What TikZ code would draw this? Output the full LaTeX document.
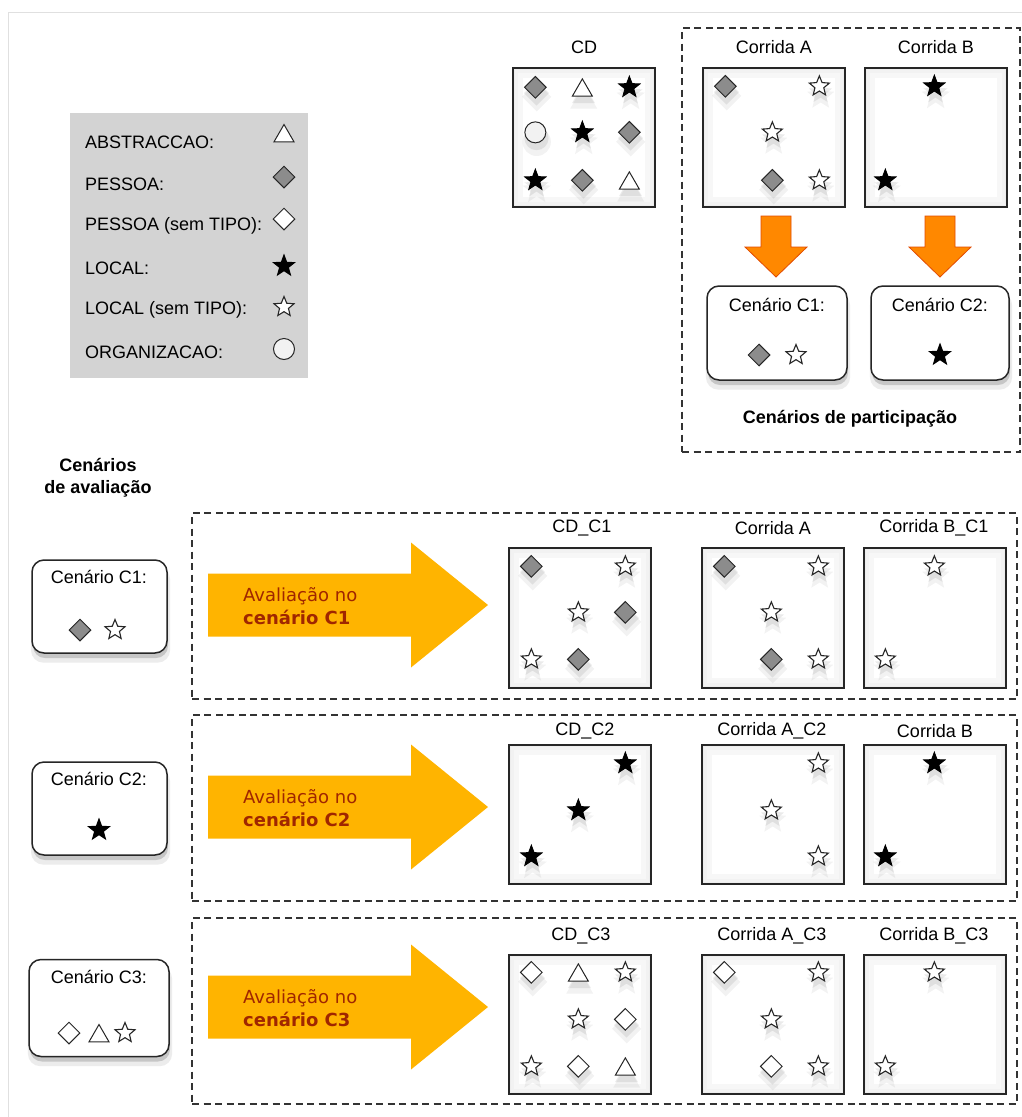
\documentclass[tikz,border=0pt]{standalone}
\usepackage{fontspec}
\setmainfont{Liberation Sans}
\newfontfamily\dejavu{DejaVu Sans}
\usetikzlibrary{shapes.geometric,shadows,calc}
\definecolor{pgray}{RGB}{140,140,140}
\definecolor{leggray}{RGB}{211,211,211}
\definecolor{arryel}{RGB}{255,180,0}
\definecolor{arrorg}{RGB}{255,136,0}
\definecolor{arrorgd}{RGB}{225,75,0}
\definecolor{avtext}{RGB}{160,38,0}
\tikzset{
  txt/.style={font=\fontsize{18}{22}\selectfont, inner sep=0pt},
  btxt/.style={font=\fontsize{18}{22}\selectfont\bfseries, inner sep=0pt},
  symb/.style={draw=black!85, line width=1pt, inner sep=0pt},
  sh/.style={drop shadow={shadow xshift=1pt, shadow yshift=-7pt, shadow scale=1.35, opacity=0.1},
             drop shadow={shadow xshift=1pt, shadow yshift=-5pt, shadow scale=1.15, opacity=0.16}},
  pdia/.style={symb, diamond, fill=pgray, minimum width=22pt, minimum height=22pt},
  wdia/.style={symb, diamond, fill=white, minimum width=22pt, minimum height=22pt},
  wtri/.style={symb, regular polygon, regular polygon sides=3, fill=white, minimum size=23pt, yshift=-3pt},
  bstar/.style={symb, star, star points=5, star point ratio=2.4, fill=black, draw=black, minimum size=22pt},
  wstar/.style={symb, star, star points=5, star point ratio=2.25, fill=white, minimum size=21pt, line width=1.1pt},
  wcirc/.style={symb, circle, fill=black!5, minimum size=21pt},
  boxr/.style={draw=black!85, line width=1.3pt, fill=white, minimum width=142pt, minimum height=140pt, inner sep=0pt,
    path picture={\draw[black!3,line width=20pt] (path picture bounding box.south west) rectangle (path picture bounding box.north east);
                  \draw[black!5,line width=10pt] (path picture bounding box.south west) rectangle (path picture bounding box.north east);
                  \draw[black!7,line width=4pt] (path picture bounding box.south west) rectangle (path picture bounding box.north east);}},
  scen/.style={draw=black!85, line width=1.5pt, fill=white, rounded corners=12pt, inner sep=0pt,
    drop shadow={shadow xshift=1pt, shadow yshift=-8pt, shadow scale=1.03, opacity=0.15},
    drop shadow={shadow xshift=1pt, shadow yshift=-5pt, opacity=0.35}},
  dashbox/.style={draw=black!80, line width=1.1pt, dash pattern=on 7pt off 4.5pt, inner sep=0pt},
  avtxt/.style={font=\dejavu\fontsize{18}{23}\selectfont, text=avtext, align=left, inner sep=0pt, anchor=west},
}
\newcommand\sym[5]{\node[#1] (#2) at ($(#3.north west)+(#4,#5)$) {};}
\begin{document}
\begin{tikzpicture}[x=1pt,y=-1pt]
\useasboundingbox (0,0) rectangle (1022,1117);
\fill[white] (0,0) rectangle (1022,1117);
\draw[black!12, line width=1pt] (8.5,1117) -- (8.5,12) -- (1022,12);

% ---------- legend ----------
\node[fill=leggray, minimum width=238pt, minimum height=265pt, inner sep=0pt] (legend) at (189,245.5) {};
\node[txt, anchor=west] (l1) at (85,142) {ABSTRACCAO:};
\node[txt, anchor=west] (l2) at (85,184) {PESSOA:};
\node[txt, anchor=west] (l3) at (85,226) {PESSOA (sem TIPO):};
\node[txt, anchor=west] (l4) at (85,268) {LOCAL:};
\node[txt, anchor=west] (l5) at (85,310) {LOCAL (sem TIPO):};
\node[txt, anchor=west] (l6) at (85,352) {ORGANIZACAO:};
\node[wtri] (ls1) at (284,133) {};
\node[pdia] (ls2) at (284,177) {};
\node[wdia] (ls3) at (284,219) {};
\node[bstar] (ls4) at (284,266) {};
\node[wstar] (ls5) at (284,307) {};
\node[wcirc] (ls6) at (284,349) {};

% ---------- top CD ----------
\node[txt] (tcdl) at (584,47) {CD};
\node[boxr, minimum height=139pt] (tcd) at (584,137.5) {};
\sym{pdia,sh}{tcd1}{tcd}{23}{20}
\sym{wtri,sh}{tcd2}{tcd}{70}{20}
\sym{bstar,sh}{tcd3}{tcd}{117}{20}
\sym{wcirc,sh}{tcd4}{tcd}{23}{65}
\sym{bstar,sh}{tcd5}{tcd}{70}{65}
\sym{pdia,sh}{tcd6}{tcd}{117}{65}
\sym{bstar,sh}{tcd7}{tcd}{23}{113}
\sym{pdia,sh}{tcd8}{tcd}{70}{113}
\sym{wtri,sh}{tcd9}{tcd}{117}{113}

% ---------- participation scenarios ----------
\node[dashbox, minimum width=338pt, minimum height=424pt] (part) at (851,240) {};
\node[txt] (tal) at (774,47) {Corrida A};
\node[boxr, minimum height=139pt] (ta) at (774,137.5) {};
\sym{pdia,sh}{ta1}{ta}{23}{19}
\sym{wstar,sh}{ta2}{ta}{117}{19}
\sym{wstar,sh}{ta3}{ta}{70}{65}
\sym{pdia,sh}{ta4}{ta}{70}{113}
\sym{wstar,sh}{ta5}{ta}{117}{113}
\node[txt] (tbl) at (936,47) {Corrida B};
\node[boxr, minimum height=139pt] (tb) at (936,137.5) {};
\sym{bstar,sh}{tb1}{tb}{70}{19}
\sym{bstar,sh}{tb2}{tb}{21}{113}

\foreach \cx/\nm in {776/da, 940/db}{
  \fill[arrorg, draw=arrorgd, line width=0.8pt, line join=miter]
    (\cx-15,216) -- (\cx+15,216) -- (\cx+15,247) -- (\cx+31,247) -- (\cx,277)
    -- (\cx-31,247) -- (\cx-15,247) -- cycle;
}

\node[scen, minimum width=140pt, minimum height=94pt] (pc1) at (777,333) {};
\node[txt] (pc1l) at (777,305) {Cenário C1:};
\node[pdia] (pc1a) at (759,355) {};
\node[wstar] (pc1b) at (796,355) {};
\node[scen, minimum width=138pt, minimum height=94pt] (pc2) at (940,333) {};
\node[txt] (pc2l) at (940,305) {Cenário C2:};
\node[bstar] (pc2a) at (940,355) {};
\node[btxt] (partl) at (850,419) {Cenários de participação};

% ---------- evaluation scenarios ----------
\node[btxt, align=center] (avl) at (98,478) {Cenários\\de avaliação};

\node[scen, minimum width=135pt, minimum height=93pt] (ec1) at (99.5,606.5) {};
\node[txt] (ec1l) at (99,577) {Cenário C1:};
\node[pdia] (ec1a) at (80,630) {};
\node[wstar] (ec1b) at (115,630) {};

\node[scen, minimum width=135pt, minimum height=93pt] (ec2) at (99.5,808.5) {};
\node[txt] (ec2l) at (99,779) {Cenário C2:};
\node[bstar] (ec2a) at (99,830) {};

\node[scen, minimum width=140pt, minimum height=97pt] (ec3) at (99,1008) {};
\node[txt] (ec3l) at (99,977) {Cenário C3:};
\node[wdia] (ec3a) at (69,1033) {};
\node[wtri] (ec3b) at (99,1033) {};
\node[wstar] (ec3c) at (125,1033) {};

% dashed rows
\node[dashbox, minimum width=825pt, minimum height=186pt] (r1) at (604.5,606) {};
\node[dashbox, minimum width=825pt, minimum height=186pt] (r2) at (604.5,808) {};
\node[dashbox, minimum width=825pt, minimum height=186pt] (r3) at (604.5,1011) {};

% yellow arrows
\foreach \cy/\n in {605/1, 807/2, 1007/3}{
  \fill[arryel] (208,\cy-31.5) -- (411,\cy-31.5) -- (411,\cy-62.5) -- (488,\cy)
    -- (411,\cy+62.5) -- (411,\cy+31.5) -- (208,\cy+31.5) -- cycle;
  \node[avtxt] (av\n) at (243,\cy+1) {Avaliação no\\\textbf{cenário C\n}};
}

% row 1
\node[txt] (r1cdl) at (582,528) {CD\_C1};
\node[boxr] (r1cd) at (580,618) {};
\sym{pdia,sh}{r1cd1}{r1cd}{23}{19}
\sym{wstar,sh}{r1cd2}{r1cd}{117}{19}
\sym{wstar,sh}{r1cd3}{r1cd}{70}{65}
\sym{pdia,sh}{r1cd4}{r1cd}{117}{65}
\sym{wstar,sh}{r1cd5}{r1cd}{23}{112}
\sym{pdia,sh}{r1cd6}{r1cd}{70}{112}
\node[txt] (r1al) at (773,528) {Corrida A};
\node[boxr] (r1a) at (773,618) {};
\sym{pdia,sh}{r1a1}{r1a}{23}{19}
\sym{wstar,sh}{r1a2}{r1a}{117}{19}
\sym{wstar,sh}{r1a3}{r1a}{70}{65}
\sym{pdia,sh}{r1a4}{r1a}{70}{112}
\sym{wstar,sh}{r1a5}{r1a}{117}{112}
\node[txt] (r1bl) at (934,528) {Corrida B\_C1};
\node[boxr] (r1b) at (935,618) {};
\sym{wstar,sh}{r1b1}{r1b}{71}{19}
\sym{wstar,sh}{r1b2}{r1b}{22}{112}

% row 2
\node[txt] (r2cdl) at (585,731) {CD\_C2};
\node[boxr, minimum height=139pt] (r2cd) at (580,814.5) {};
\sym{bstar,sh}{r2cd1}{r2cd}{117}{19}
\sym{bstar,sh}{r2cd2}{r2cd}{70}{66}
\sym{bstar,sh}{r2cd3}{r2cd}{23}{112}
\node[txt] (r2al) at (772,731) {Corrida A\_C2};
\node[boxr, minimum height=139pt] (r2a) at (773,814.5) {};
\sym{wstar,sh}{r2a1}{r2a}{117}{19}
\sym{wstar,sh}{r2a2}{r2a}{70}{66}
\sym{wstar,sh}{r2a3}{r2a}{117}{112}
\node[txt] (r2bl) at (935,731) {Corrida B};
\node[boxr, minimum height=139pt] (r2b) at (935,814.5) {};
\sym{bstar,sh}{r2b1}{r2b}{71}{19}
\sym{bstar,sh}{r2b2}{r2b}{22}{112}

% row 3
\node[txt] (r3cdl) at (581,936) {CD\_C3};
\node[boxr, minimum height=139pt] (r3cd) at (580,1024.5) {};
\sym{wdia,sh}{r3cd1}{r3cd}{23}{18}
\sym{wtri,sh}{r3cd2}{r3cd}{70}{18}
\sym{wstar,sh}{r3cd3}{r3cd}{117}{18}
\sym{wstar,sh}{r3cd4}{r3cd}{70}{65}
\sym{wdia,sh}{r3cd5}{r3cd}{117}{65}
\sym{wstar,sh}{r3cd6}{r3cd}{23}{112}
\sym{wdia,sh}{r3cd7}{r3cd}{70}{112}
\sym{wtri,sh}{r3cd8}{r3cd}{117}{112}
\node[txt] (r3al) at (772,936) {Corrida A\_C3};
\node[boxr, minimum height=139pt] (r3a) at (773,1024.5) {};
\sym{wdia,sh}{r3a1}{r3a}{23}{18}
\sym{wstar,sh}{r3a2}{r3a}{117}{18}
\sym{wstar,sh}{r3a3}{r3a}{70}{65}
\sym{wdia,sh}{r3a4}{r3a}{70}{112}
\sym{wstar,sh}{r3a5}{r3a}{117}{112}
\node[txt] (r3bl) at (934,936) {Corrida B\_C3};
\node[boxr, minimum height=139pt] (r3b) at (935,1024.5) {};
\sym{wstar,sh}{r3b1}{r3b}{71}{18}
\sym{wstar,sh}{r3b2}{r3b}{22}{112}
\end{tikzpicture}
\end{document}
